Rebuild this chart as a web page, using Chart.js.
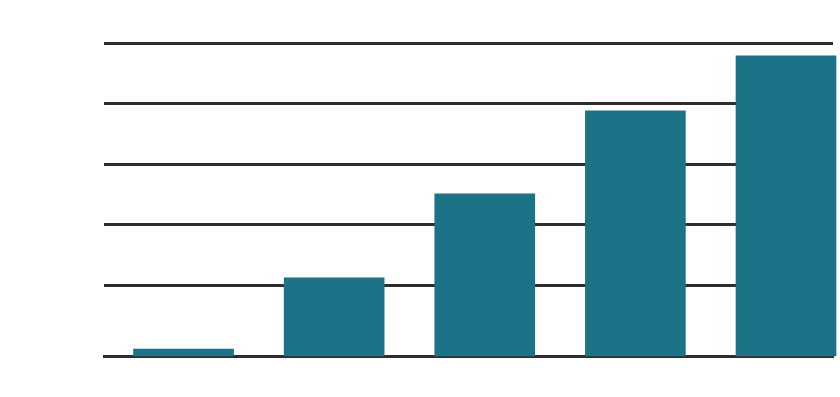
<!DOCTYPE html>
<html lang="en">
<head>
    <meta charset="UTF-8">
    <title>Bar chart</title>
    <script src="https://cdn.jsdelivr.net/npm/chart.js"></script>
    <style>
        html, body {
            margin: 0;
            padding: 0;
            background: #ffffff;
            overflow: hidden;
        }
        .chart-box {
            width: 840px;
            height: 397px;
        }
    </style>
</head>
<body>
    <div class="chart-box">
        <canvas id="barChart" width="840" height="397"></canvas>
    </div>

    <script>
        // Values
        const categories = ['A', 'B', 'C', 'D', 'E'];
        const values = [1.16, 12.9, 26.8, 40.5, 49.6];
        const yTicks = [11.7, 21.7, 31.7, 41.7, 51.7];
        const yMax = 51.7;

        const barColor = '#1c7286';
        const lineColor = '#2e2e2e';

        // white labels above each bar
        const barLabels = {
            id: 'barLabels',
            afterDatasetsDraw(chart) {
                const ctx = chart.ctx;
                const meta = chart.getDatasetMeta(0);
                ctx.save();
                ctx.fillStyle = '#ffffff';
                ctx.font = 'bold 14px "Liberation Sans", Arial, sans-serif';
                ctx.textAlign = 'center';
                ctx.textBaseline = 'bottom';
                meta.data.forEach((bar, i) => {
                    ctx.fillText(values[i].toFixed(1), bar.x, bar.y - 11);
                });
                ctx.restore();
            }
        };

        new Chart(document.getElementById('barChart'), {
            type: 'bar',
            data: {
                datasets: [{
                    data: values.map((v, i) => ({ x: i, y: v })),
                    backgroundColor: barColor,
                    borderWidth: 0,
                    barThickness: 100,
                    clip: false
                }]
            },
            options: {
                responsive: false,
                animation: false,
                events: [],
                layout: { padding: { top: 43, right: 7, left: 0, bottom: 0 } },
                plugins: {
                    legend: { display: false },
                    tooltip: { enabled: false }
                },
                scales: {
                    x: {
                        type: 'linear',
                        offset: false,
                        min: -0.528,
                        max: 4.312,
                        afterBuildTicks: axis => {
                            axis.ticks = categories.map((c, i) => ({ value: i }));
                        },
                        afterFit: axis => { axis.height = 41; },
                        grid: { display: false },
                        border: { display: true, color: lineColor, width: 3 },
                        ticks: {
                            color: '#ffffff',
                            font: { size: 14, family: '"Liberation Sans", Arial, sans-serif' },
                            callback: v => categories[v] ?? ''
                        }
                    },
                    y: {
                        min: 0,
                        max: yMax,
                        afterBuildTicks: axis => {
                            axis.ticks = yTicks.map(v => ({ value: v }));
                        },
                        afterFit: axis => { axis.width = 104; },
                        border: { display: false },
                        grid: {
                            color: lineColor,
                            lineWidth: 3,
                            drawTicks: false
                        },
                        ticks: {
                            color: '#ffffff',
                            padding: 8,
                            font: { size: 14, family: '"Liberation Sans", Arial, sans-serif' }
                        }
                    }
                }
            },
            plugins: [barLabels]
        });
    </script>
</body>
</html>
